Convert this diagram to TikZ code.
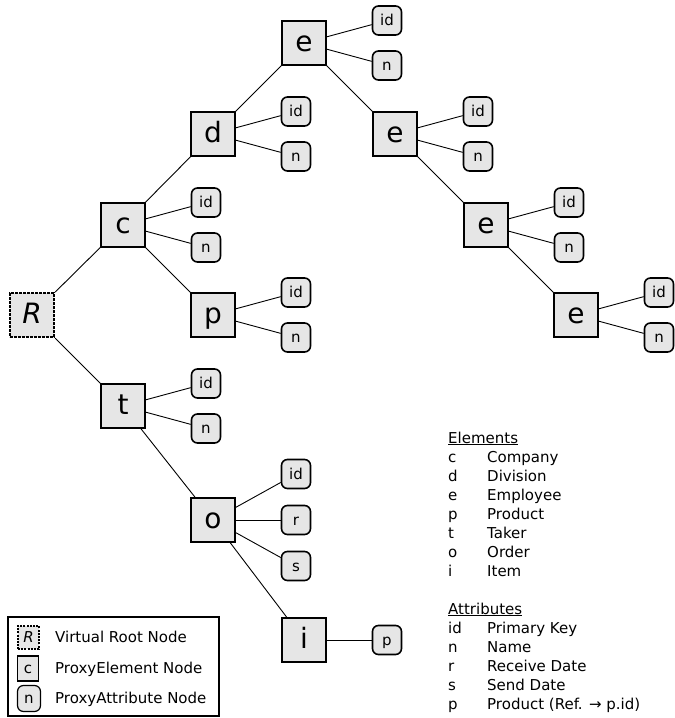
\documentclass[tikz,border=0pt]{standalone}
\usepackage{fontspec}
\setmainfont{DejaVu Sans}
\definecolor{boxgray}{HTML}{E6E6E6}
\begin{document}
\begin{tikzpicture}[x=1pt,y=-1pt,
  elem/.style={draw, line width=1.6pt, fill=boxgray, minimum size=44pt, inner sep=0pt,
    text height=20pt, text depth=4pt, font=\fontsize{28}{30}\selectfont},
  rootbox/.style={elem, line width=2.4pt, dash pattern=on 2.6pt off 1.4pt,
    font=\fontsize{28}{30}\selectfont\itshape},
  attr/.style={draw, line width=1.6pt, fill=boxgray, rounded corners=6pt, minimum size=29pt,
    inner sep=0pt, text height=11pt, text depth=1pt, font=\fontsize{15}{17}\selectfont},
  link/.style={line width=0.9pt},
  legtext/.style={anchor=base west, inner sep=0pt, font=\fontsize{15}{17}\selectfont},
]
\useasboundingbox (0,0) rectangle (675,718);

% element nodes
\node[rootbox] (R)  at (32,315)  {R};
\node[elem]    (c)  at (123,225) {c};
\node[elem]    (d)  at (213,134) {d};
\node[elem]    (e1) at (304,43)  {e};
\node[elem]    (e2) at (395,134) {e};
\node[elem]    (e3) at (486,225) {e};
\node[elem]    (e4) at (576,315) {e};
\node[elem]    (p)  at (213,315) {p};
\node[elem]    (t)  at (123,406) {t};
\node[elem]    (o)  at (213,520) {o};
\node[elem]    (i)  at (304,640) {i};

% attribute nodes
\node[attr] (cid)  at (206,202.5) {id};
\node[attr] (cn)   at (206,247.5) {n};
\node[attr] (did)  at (296,111.5) {id};
\node[attr] (dn)   at (296,156.5) {n};
\node[attr] (e1id) at (387,20.5)  {id};
\node[attr] (e1n)  at (387,65.5)  {n};
\node[attr] (e2id) at (478,111.5) {id};
\node[attr] (e2n)  at (478,156.5) {n};
\node[attr] (e3id) at (569,202.5) {id};
\node[attr] (e3n)  at (569,247.5) {n};
\node[attr] (e4id) at (659,292.5) {id};
\node[attr] (e4n)  at (659,337.5) {n};
\node[attr] (pid)  at (296,292.5) {id};
\node[attr] (pn)   at (296,337.5) {n};
\node[attr] (tid)  at (206,383.5) {id};
\node[attr] (tn)   at (206,428.5) {n};
\node[attr] (oid)  at (296,474)   {id};
\node[attr] (or)   at (296,520)   {r};
\node[attr] (os)   at (296,566)   {s};
\node[attr] (ip)   at (387,640)   {p};

% tree edges
\foreach \a/\b in {R/c, c/d, d/e1, e1/e2, e2/e3, e3/e4, c/p, R/t, t/o, o/i}
  \draw[link] (\a) -- (\b);

% attribute edges
\foreach \a/\b in {c/cid, c/cn, d/did, d/dn, e1/e1id, e1/e1n, e2/e2id, e2/e2n,
                   e3/e3id, e3/e3n, e4/e4id, e4/e4n, p/pid, p/pn, t/tid, t/tn,
                   o/oid, o/or, o/os, i/ip}
  \draw[link] (\a) -- (\b);

% node-type key
\node[draw, line width=1.3pt, minimum width=211pt, minimum height=99pt, inner sep=0pt]
  (key) at (113.5,666.5) {};
\node[draw, line width=1.8pt, dash pattern=on 2pt off 1.2pt, fill=boxgray, minimum width=21pt,
  minimum height=23pt, inner sep=0pt, text height=10.5pt, text depth=0.5pt,
  font=\fontsize{15}{17}\selectfont\itshape] (kR) at (28.5,637.5) {R};
\node[draw, line width=1.2pt, fill=boxgray, minimum width=21pt, minimum height=25pt,
  inner sep=0pt, text height=10.5pt, text depth=0.5pt,
  font=\fontsize{15}{17}\selectfont] (kc) at (28,668.5) {c};
\node[draw, line width=1.2pt, fill=boxgray, rounded corners=6pt, minimum width=23pt,
  minimum height=26pt, inner sep=0pt, text height=10.5pt, text depth=0.5pt,
  font=\fontsize{15}{17}\selectfont] (kn) at (29,698.5) {n};
\node[legtext] (kRt) at (55,642) {Virtual Root Node};
\node[legtext] (kct) at (55,673) {ProxyElement Node};
\node[legtext] (knt) at (55,703) {ProxyAttribute Node};

% abbreviation list
\node[legtext] (hel) at (448,443) {\underline{Elements}};
\foreach \k/\s/\w [count=\n] in {c/c/Company, d/d/Division, e/e/Employee, p/p/Product,
                                 t/t/Taker, o/o/Order, i/i/Item} {
  \node[legtext] (lk\k) at (448,443+19*\n) {\s};
  \node[legtext] (lw\k) at (487,443+19*\n) {\w};
}
\node[legtext] (hat) at (448,614) {\underline{Attributes}};
\foreach \k/\s/\w [count=\n] in {aid/id/Primary Key, an/n/Name, ar/r/Receive Date,
                                 as/s/Send Date, ap/p/{Product (Ref. → p.id)}} {
  \node[legtext] (lk\k) at (448,614+19*\n) {\s};
  \node[legtext] (lw\k) at (487,614+19*\n) {\w};
}
\end{tikzpicture}
\end{document}
